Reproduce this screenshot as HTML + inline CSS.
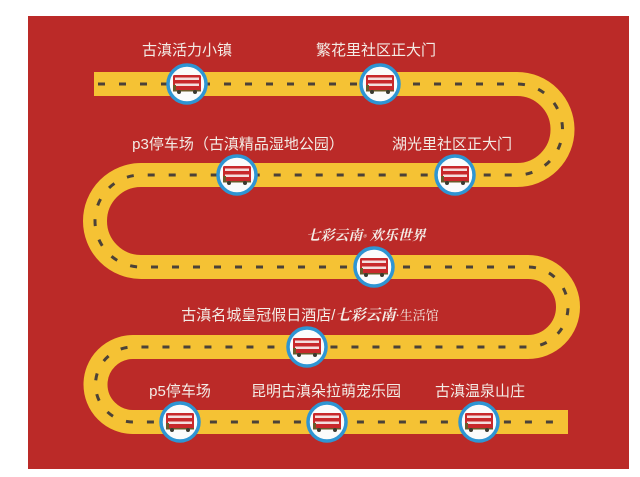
<!DOCTYPE html>
<html><head><meta charset="utf-8">
<style>
html,body{margin:0;padding:0;background:#fff;}
svg{display:block;}
text{font-family:"Liberation Sans","Noto Sans CJK SC",sans-serif;fill:#f3ece6;}
</style></head>
<body>
<svg width="640" height="477" viewBox="0 0 640 477" xmlns="http://www.w3.org/2000/svg">
<defs>
<g id="stop">
  <circle r="19" fill="#fbfbfb" stroke="#2e95d3" stroke-width="3.5"/>
  <rect x="-14" y="-9" width="28" height="16" rx="1.5" fill="#c8282b"/>
  <rect x="-12" y="-6.5" width="24" height="2.5" fill="#f3dede"/>
  <rect x="-12" y="-0.5" width="24" height="2.5" fill="#f3dede"/>
  <rect x="-14" y="1" width="3" height="6" fill="#6a5a2a"/>
  <rect x="-14" y="6" width="28" height="1.5" fill="#6a5a2a"/>
  <circle cx="-8" cy="8" r="2" fill="#3a3a30"/>
  <circle cx="8" cy="8" r="2" fill="#3a3a30"/>
</g>
</defs>
<rect x="28" y="16" width="601" height="453" fill="#bb2a28"/>
<path d="M94 84 H517 A45.5 45.5 0 0 1 517 175 H141 A46 46 0 0 0 141 267 H528 A40 40 0 0 1 528 347 H133 A37.5 37.5 0 0 0 133 422 H568" fill="none" stroke="#f5c234" stroke-width="24"/>
<path d="M98 84 H517 A45.5 45.5 0 0 1 517 175 H141 A46 46 0 0 0 141 267 H528 A40 40 0 0 1 528 347 H133 A37.5 37.5 0 0 0 133 422 H566" fill="none" stroke="#4b4238" stroke-width="3" stroke-dasharray="7 14"/>
<use href="#stop" x="187" y="84"/>
<use href="#stop" x="380" y="84"/>
<use href="#stop" x="237" y="175"/>
<use href="#stop" x="455" y="175"/>
<use href="#stop" x="374" y="267"/>
<use href="#stop" x="307" y="347"/>
<use href="#stop" x="180" y="422"/>
<use href="#stop" x="327" y="422"/>
<use href="#stop" x="479" y="422"/>
<g font-size="15" text-anchor="middle">
<text x="187" y="55">古滇活力小镇</text>
<text x="376" y="55">繁花里社区正大门</text>
<text x="238" y="149">p3停车场（古滇精品湿地公园）</text>
<text x="452" y="149">湖光里社区正大门</text>
<text x="310" y="320">古滇名城皇冠假日酒店/<tspan font-family="'Noto Serif CJK SC',serif" font-weight="bold" font-style="italic">七彩云南</tspan><tspan font-family="'Noto Serif CJK SC',serif" font-size="13">·生活馆</tspan></text>
<text x="180" y="396">p5停车场</text>
<text x="326" y="396">昆明古滇朵拉萌宠乐园</text>
<text x="480" y="396">古滇温泉山庄</text>
</g>
<text x="366" y="240" text-anchor="middle" font-size="14" font-weight="bold" font-style="italic" style="font-family:'Noto Serif CJK SC',serif">七彩云南<tspan font-size="7">®</tspan> 欢乐世界</text>
</svg>
</body></html>
